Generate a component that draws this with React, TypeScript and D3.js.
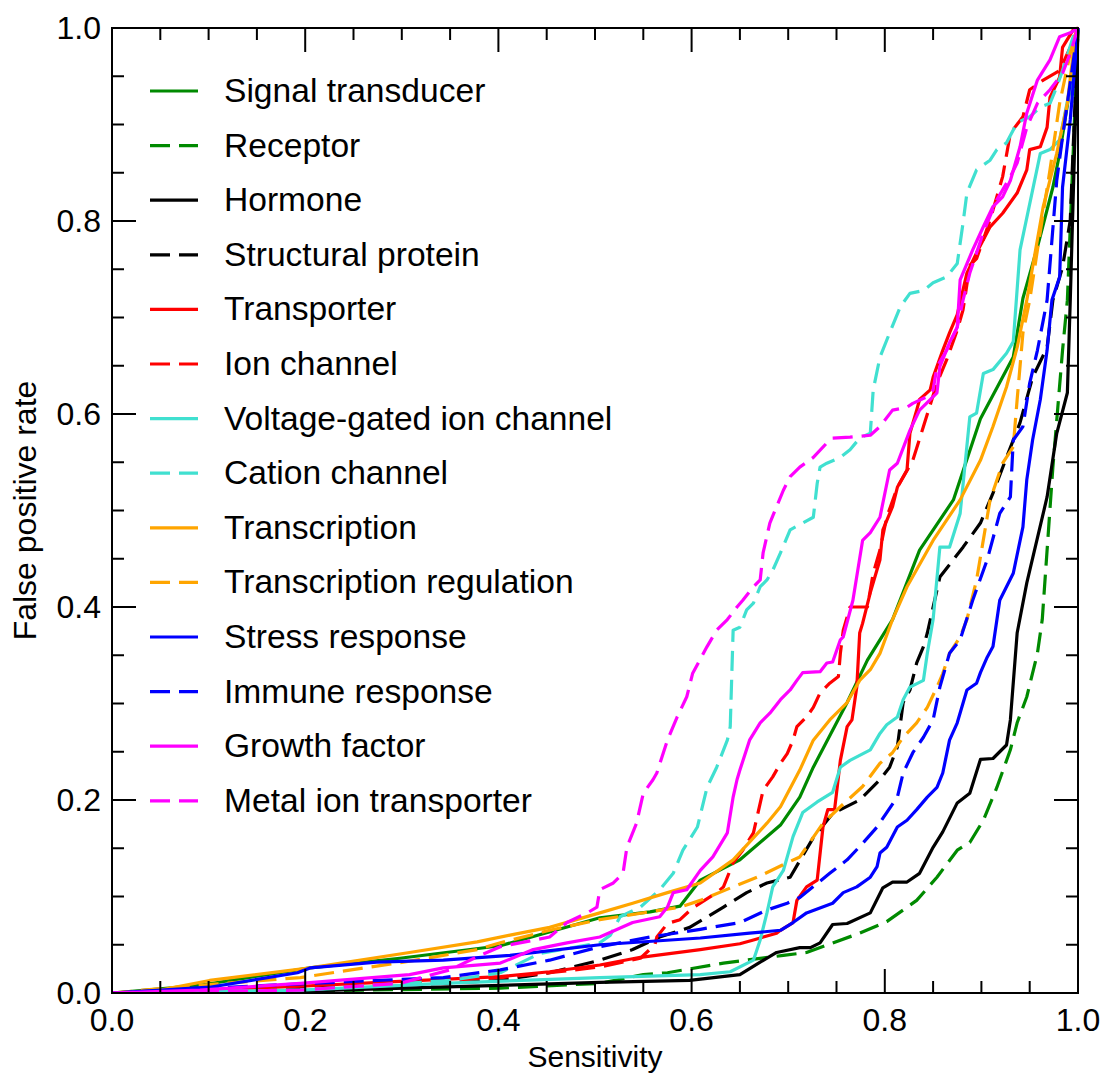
import React from 'react';
import * as d3 from 'd3';

type Pt = [number, number];

const seriesNames = [
  'Signal transducer', 'Receptor', 'Hormone', 'Structural protein', 'Transporter', 'Ion channel',
  'Voltage-gated ion channel', 'Cation channel', 'Transcription', 'Transcription regulation',
  'Stress response', 'Immune response', 'Growth factor', 'Metal ion transporter',
];
const seriesColors = [
  '#008a00', '#008a00', '#000000', '#000000', '#ff0000', '#ff0000', '#40e0d0', '#40e0d0',
  '#ffa500', '#ffa500', '#0000ff', '#0000ff', '#ff00ff', '#ff00ff',
];
const seriesDashed = [false, true, false, true, false, true, false, true, false, true, false, true, false, true];

const signalTransducer: Pt[] = [[0,0],[0.091,0.008],[0.205,0.026],[0.298,0.036],[0.402,0.049],[0.505,0.078],[0.557,0.084],[0.588,0.090],[0.609,0.117],[0.650,0.138],[0.692,0.174],[0.712,0.203],[0.726,0.234],[0.761,0.301],[0.782,0.345],[0.808,0.387],[0.836,0.459],[0.871,0.511],[0.899,0.595],[0.933,0.659],[0.943,0.720],[0.958,0.773],[0.974,0.835],[0.981,0.870],[0.992,0.939],[1,1]];
const receptor: Pt[] = [[0,0],[0.195,0.002],[0.402,0.005],[0.505,0.010],[0.550,0.019],[0.575,0.021],[0.633,0.031],[0.695,0.039],[0.719,0.042],[0.774,0.062],[0.802,0.074],[0.833,0.096],[0.854,0.120],[0.875,0.148],[0.888,0.156],[0.902,0.179],[0.916,0.213],[0.930,0.252],[0.937,0.280],[0.947,0.307],[0.958,0.352],[0.963,0.387],[0.974,0.545],[0.984,0.666],[0.989,0.718],[0.995,0.870],[1,1]];
const hormone: Pt[] = [[0,0],[0.195,0.002],[0.402,0.008],[0.505,0.011],[0.598,0.013],[0.650,0.019],[0.671,0.032],[0.688,0.042],[0.712,0.047],[0.723,0.047],[0.733,0.052],[0.746,0.071],[0.761,0.072],[0.785,0.083],[0.798,0.109],[0.808,0.115],[0.823,0.115],[0.836,0.124],[0.850,0.151],[0.860,0.167],[0.875,0.197],[0.888,0.207],[0.899,0.242],[0.912,0.243],[0.926,0.257],[0.930,0.283],[0.937,0.373],[0.947,0.425],[0.968,0.514],[0.978,0.580],[0.989,0.622],[0.992,0.718],[1,1]];
const structuralProtein: Pt[] = [[0,0],[0.195,0.005],[0.298,0.008],[0.402,0.013],[0.453,0.021],[0.505,0.034],[0.539,0.045],[0.567,0.058],[0.598,0.068],[0.633,0.089],[0.657,0.104],[0.678,0.114],[0.702,0.120],[0.726,0.161],[0.746,0.186],[0.774,0.200],[0.795,0.221],[0.805,0.234],[0.813,0.255],[0.819,0.301],[0.826,0.314],[0.833,0.342],[0.840,0.359],[0.844,0.373],[0.857,0.431],[0.881,0.462],[0.899,0.487],[0.912,0.518],[0.926,0.555],[0.940,0.591],[0.953,0.638],[0.968,0.669],[0.974,0.718],[0.984,0.752],[0.992,0.801],[1,1]];
const transporter: Pt[] = [[0,0],[0.091,0.003],[0.195,0.007],[0.298,0.012],[0.402,0.017],[0.453,0.022],[0.505,0.029],[0.547,0.037],[0.609,0.045],[0.650,0.051],[0.664,0.055],[0.688,0.062],[0.692,0.065],[0.705,0.073],[0.709,0.096],[0.719,0.110],[0.730,0.117],[0.736,0.172],[0.741,0.190],[0.748,0.190],[0.754,0.241],[0.761,0.276],[0.766,0.283],[0.771,0.317],[0.774,0.373],[0.777,0.383],[0.785,0.415],[0.795,0.449],[0.798,0.480],[0.808,0.504],[0.813,0.524],[0.823,0.542],[0.826,0.580],[0.833,0.604],[0.836,0.615],[0.847,0.625],[0.850,0.638],[0.860,0.666],[0.867,0.684],[0.875,0.703],[0.885,0.746],[0.895,0.767],[0.909,0.794],[0.922,0.808],[0.937,0.829],[0.947,0.853],[0.950,0.874],[0.961,0.877],[0.968,0.897],[0.971,0.928],[0.981,0.949],[0.984,0.980],[0.995,0.998],[1,1]];
const ionChannel: Pt[] = [[0,0],[0.195,0.003],[0.343,0.013],[0.402,0.016],[0.453,0.021],[0.505,0.027],[0.547,0.036],[0.562,0.050],[0.564,0.058],[0.575,0.072],[0.588,0.076],[0.601,0.088],[0.626,0.104],[0.633,0.110],[0.643,0.135],[0.653,0.148],[0.664,0.166],[0.674,0.210],[0.684,0.224],[0.692,0.238],[0.699,0.248],[0.705,0.262],[0.709,0.276],[0.719,0.286],[0.726,0.296],[0.733,0.311],[0.743,0.321],[0.752,0.328],[0.754,0.352],[0.757,0.376],[0.764,0.400],[0.782,0.400],[0.788,0.435],[0.795,0.459],[0.802,0.493],[0.813,0.524],[0.829,0.552],[0.840,0.587],[0.854,0.632],[0.864,0.656],[0.875,0.687],[0.881,0.708],[0.888,0.754],[0.895,0.761],[0.909,0.801],[0.922,0.846],[0.930,0.891],[0.943,0.908],[0.950,0.936],[0.964,0.946],[0.981,0.956],[0.992,0.980],[1,1]];
const voltageGatedIonChannel: Pt[] = [[0,0],[0.195,0.003],[0.343,0.010],[0.505,0.016],[0.609,0.019],[0.640,0.022],[0.664,0.034],[0.671,0.055],[0.678,0.083],[0.684,0.110],[0.695,0.127],[0.705,0.162],[0.715,0.187],[0.730,0.198],[0.746,0.208],[0.754,0.234],[0.764,0.241],[0.785,0.252],[0.795,0.269],[0.802,0.278],[0.813,0.286],[0.819,0.304],[0.826,0.317],[0.840,0.324],[0.844,0.352],[0.850,0.387],[0.857,0.462],[0.867,0.462],[0.878,0.497],[0.888,0.597],[0.895,0.601],[0.902,0.642],[0.912,0.646],[0.926,0.663],[0.933,0.675],[0.940,0.770],[0.961,0.870],[0.971,0.874],[0.981,0.884],[0.992,0.939],[1,1]];
const cationChannel: Pt[] = [[0,0],[0.195,0.003],[0.350,0.013],[0.402,0.021],[0.443,0.041],[0.505,0.052],[0.516,0.060],[0.526,0.079],[0.547,0.089],[0.567,0.107],[0.581,0.124],[0.591,0.148],[0.606,0.172],[0.616,0.213],[0.626,0.234],[0.637,0.262],[0.640,0.276],[0.643,0.376],[0.650,0.379],[0.657,0.397],[0.664,0.404],[0.671,0.421],[0.678,0.428],[0.684,0.438],[0.692,0.456],[0.702,0.480],[0.715,0.487],[0.726,0.493],[0.730,0.528],[0.733,0.545],[0.740,0.549],[0.754,0.555],[0.764,0.563],[0.774,0.575],[0.785,0.580],[0.788,0.625],[0.795,0.659],[0.805,0.684],[0.816,0.711],[0.826,0.725],[0.840,0.728],[0.850,0.736],[0.864,0.742],[0.875,0.756],[0.881,0.798],[0.885,0.829],[0.895,0.853],[0.909,0.863],[0.916,0.874],[0.926,0.881],[0.937,0.902],[0.950,0.908],[0.961,0.918],[0.971,0.922],[0.978,0.939],[0.984,0.956],[0.995,0.991],[1,1]];
const transcription: Pt[] = [[0,0],[0.050,0.003],[0.101,0.013],[0.205,0.026],[0.308,0.042],[0.378,0.053],[0.412,0.060],[0.453,0.068],[0.505,0.083],[0.539,0.093],[0.575,0.104],[0.609,0.114],[0.643,0.138],[0.678,0.176],[0.692,0.193],[0.712,0.231],[0.726,0.262],[0.743,0.283],[0.761,0.301],[0.774,0.324],[0.785,0.335],[0.795,0.352],[0.808,0.387],[0.823,0.421],[0.850,0.469],[0.878,0.511],[0.899,0.552],[0.912,0.587],[0.926,0.628],[0.937,0.669],[0.947,0.718],[0.964,0.815],[0.978,0.870],[0.989,0.922],[0.997,0.991],[1,1]];
const transcriptionRegulation: Pt[] = [[0,0],[0.091,0.008],[0.195,0.016],[0.308,0.033],[0.378,0.045],[0.402,0.052],[0.453,0.065],[0.505,0.076],[0.588,0.089],[0.609,0.096],[0.643,0.110],[0.668,0.120],[0.699,0.135],[0.712,0.141],[0.736,0.176],[0.754,0.193],[0.777,0.214],[0.795,0.238],[0.808,0.249],[0.819,0.265],[0.833,0.280],[0.844,0.296],[0.854,0.317],[0.860,0.331],[0.867,0.352],[0.878,0.369],[0.885,0.387],[0.895,0.428],[0.909,0.511],[0.922,0.549],[0.933,0.566],[0.937,0.615],[0.943,0.684],[0.950,0.718],[0.958,0.770],[0.971,0.853],[0.981,0.922],[0.992,0.974],[1,1]];
const stressResponse: Pt[] = [[0,0],[0.101,0.006],[0.192,0.021],[0.205,0.026],[0.274,0.032],[0.343,0.034],[0.412,0.039],[0.505,0.050],[0.609,0.057],[0.660,0.062],[0.692,0.065],[0.705,0.073],[0.719,0.083],[0.746,0.093],[0.757,0.104],[0.771,0.110],[0.785,0.120],[0.792,0.131],[0.795,0.145],[0.802,0.151],[0.813,0.172],[0.823,0.179],[0.833,0.190],[0.844,0.203],[0.854,0.213],[0.860,0.228],[0.867,0.262],[0.875,0.280],[0.885,0.314],[0.895,0.321],[0.899,0.332],[0.906,0.348],[0.912,0.359],[0.919,0.407],[0.933,0.435],[0.943,0.483],[0.947,0.532],[0.953,0.573],[0.961,0.615],[0.968,0.666],[0.973,0.718],[0.981,0.742],[0.984,0.835],[0.992,0.905],[1,1]];
const immuneResponse: Pt[] = [[0,0],[0.205,0.010],[0.343,0.016],[0.402,0.024],[0.453,0.034],[0.505,0.048],[0.557,0.058],[0.609,0.066],[0.650,0.073],[0.678,0.086],[0.699,0.093],[0.712,0.099],[0.743,0.124],[0.761,0.138],[0.777,0.155],[0.792,0.172],[0.802,0.187],[0.813,0.203],[0.819,0.228],[0.829,0.249],[0.840,0.265],[0.850,0.283],[0.857,0.317],[0.867,0.352],[0.878,0.366],[0.891,0.407],[0.906,0.449],[0.919,0.497],[0.930,0.514],[0.933,0.573],[0.943,0.587],[0.950,0.632],[0.958,0.666],[0.964,0.697],[0.968,0.718],[0.978,0.842],[0.984,0.887],[1,1]];
const growthFactor: Pt[] = [[0,0],[0.091,0.003],[0.195,0.010],[0.308,0.019],[0.343,0.026],[0.402,0.031],[0.436,0.045],[0.471,0.052],[0.505,0.058],[0.539,0.073],[0.567,0.079],[0.575,0.089],[0.581,0.104],[0.595,0.107],[0.609,0.127],[0.622,0.141],[0.637,0.166],[0.643,0.203],[0.647,0.221],[0.650,0.231],[0.660,0.262],[0.671,0.280],[0.681,0.290],[0.692,0.304],[0.702,0.314],[0.709,0.324],[0.715,0.332],[0.733,0.333],[0.740,0.342],[0.746,0.343],[0.754,0.366],[0.757,0.369],[0.767,0.407],[0.777,0.469],[0.785,0.477],[0.795,0.493],[0.805,0.542],[0.813,0.549],[0.826,0.583],[0.836,0.604],[0.847,0.615],[0.854,0.622],[0.857,0.649],[0.867,0.674],[0.875,0.690],[0.878,0.739],[0.891,0.770],[0.902,0.794],[0.912,0.815],[0.922,0.825],[0.930,0.842],[0.940,0.877],[0.947,0.912],[0.958,0.946],[0.971,0.967],[0.981,0.991],[0.992,0.995],[1,1]];
const metalIonTransporter: Pt[] = [[0,0],[0.195,0.003],[0.298,0.010],[0.350,0.024],[0.381,0.039],[0.402,0.048],[0.453,0.058],[0.471,0.073],[0.492,0.083],[0.502,0.089],[0.505,0.107],[0.519,0.114],[0.529,0.124],[0.533,0.151],[0.543,0.176],[0.550,0.207],[0.560,0.221],[0.564,0.228],[0.575,0.262],[0.585,0.286],[0.595,0.307],[0.601,0.331],[0.616,0.359],[0.626,0.376],[0.637,0.387],[0.647,0.400],[0.653,0.407],[0.664,0.421],[0.671,0.428],[0.674,0.456],[0.681,0.487],[0.688,0.504],[0.695,0.521],[0.702,0.535],[0.712,0.545],[0.726,0.555],[0.740,0.570],[0.746,0.575],[0.764,0.576],[0.785,0.578],[0.795,0.587],[0.808,0.604],[0.823,0.607],[0.829,0.611],[0.844,0.618],[0.850,0.625],[0.854,0.649],[0.864,0.666],[0.875,0.690],[0.881,0.718],[0.888,0.746],[0.902,0.788],[0.916,0.822],[0.930,0.846],[0.937,0.860],[0.947,0.897],[0.958,0.922],[0.971,0.936],[0.984,0.953],[0.992,0.974],[1,1]];

const allSeries: Pt[][] = [
  signalTransducer, receptor, hormone, structuralProtein, transporter, ionChannel,
  voltageGatedIonChannel, cationChannel, transcription, transcriptionRegulation,
  stressResponse, immuneResponse, growthFactor, metalIonTransporter,
];

const tickValues = [0, 0.2, 0.4, 0.6, 0.8, 1.0];
const xTitle = 'Sensitivity';
const yTitle = 'False positive rate';

const FONT = '"Liberation Sans", Arial, Helvetica, sans-serif';
const DASH = '20,9';

export default function App() {
  const W = 1105, H = 1075;
  const L = 112, R = 1078, T = 28, B = 993;
  const x = d3.scaleLinear().domain([0, 1]).range([L, R]);
  const y = d3.scaleLinear().domain([0, 1]).range([B, T]);
  const line = d3.line<Pt>().x(d => x(d[0])).y(d => y(d[1]));
  const minor = d3.range(0, 21).map(i => i * 0.05);
  const isMajor = (v: number) => Math.abs(v * 5 - Math.round(v * 5)) < 1e-6;
  const fmt = d3.format('.1f');
  const fs = 32;

  return (
    <svg width={W} height={H} style={{ position: 'absolute', left: 0, top: 0, background: '#fff' }}
      fontFamily={FONT}>
      <rect x={0} y={0} width={W} height={H} fill="#fff" />
      <defs>
        <clipPath id="plotclip"><rect x={L} y={T - 2} width={R - L + 2} height={B - T + 2} /></clipPath>
      </defs>
      <g clipPath="url(#plotclip)">
        {allSeries.map((s, i) => (
          <path key={i} d={line(s) || ''} fill="none" stroke={seriesColors[i]} strokeWidth={3.2}
            strokeDasharray={seriesDashed[i] ? DASH : undefined} strokeLinejoin="round" />
        ))}
      </g>
      <rect x={L} y={T} width={R - L} height={B - T} fill="none" stroke="#000" strokeWidth={2} />
      {minor.map((v, i) => {
        const len = isMajor(v) ? 24 : 12;
        return (
          <g key={i} stroke="#000" strokeWidth={2}>
            <line x1={x(v)} x2={x(v)} y1={B} y2={B - len} />
            <line x1={x(v)} x2={x(v)} y1={T} y2={T + len} />
            <line x1={L} x2={L + len} y1={y(v)} y2={y(v)} />
            <line x1={R} x2={R - len} y1={y(v)} y2={y(v)} />
          </g>
        );
      })}
      {tickValues.map((v, i) => (
        <text key={'xt' + i} x={x(v)} y={B + 38} textAnchor="middle" fontSize={fs} fill="#000">{fmt(v)}</text>
      ))}
      {tickValues.map((v, i) => (
        <text key={'yt' + i} x={L - 11} y={y(v) + 11} textAnchor="end" fontSize={fs} fill="#000">{fmt(v)}</text>
      ))}
      <text x={(L + R) / 2} y={1067} textAnchor="middle" fontSize={30} fill="#000">{xTitle}</text>
      <text transform={`translate(36,${(T + B) / 2}) rotate(-90)`} textAnchor="middle" fontSize={32} fill="#000">{yTitle}</text>
      {seriesNames.map((name, i) => {
        const ly = 91 + i * 54.6;
        return (
          <g key={'lg' + i}>
            <line x1={150} x2={198} y1={ly} y2={ly} stroke={seriesColors[i]} strokeWidth={3.2}
              strokeDasharray={seriesDashed[i] ? DASH : undefined} />
            <text x={224} y={ly + 11} fontSize={33.6} fill="#000">{name}</text>
          </g>
        );
      })}
    </svg>
  );
}
